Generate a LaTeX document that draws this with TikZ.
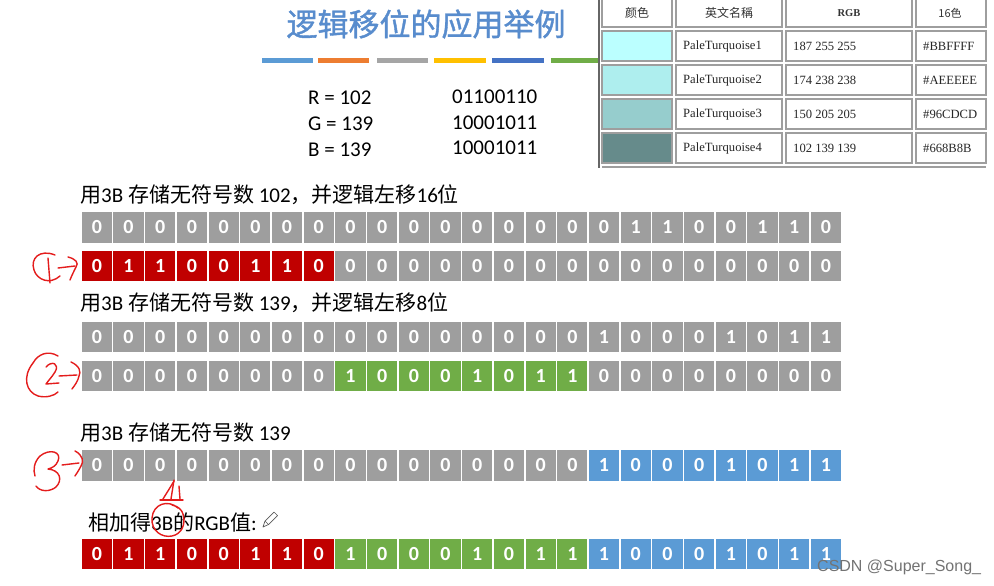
\documentclass[tikz,border=0pt]{standalone}
\usepackage{fontspec}
\setmainfont{Carlito}
\newfontfamily\cjk{Noto Sans CJK SC}
\newfontfamily\cjktitle[FakeBold=1.2]{Noto Sans CJK SC}
\newfontfamily\tabfont{Liberation Serif}
\newfontfamily\wmfont{Liberation Sans}
\definecolor{cellgray}{RGB}{158,158,158}
\definecolor{cellred}{RGB}{192,0,0}
\definecolor{cellgreen}{RGB}{112,173,71}
\definecolor{cellblue}{RGB}{91,155,213}
\definecolor{titleblue}{RGB}{88,140,205}
\definecolor{dashblue}{RGB}{91,155,213}
\definecolor{dashorange}{RGB}{237,125,49}
\definecolor{dashgray}{RGB}{165,165,165}
\definecolor{dashyellow}{RGB}{255,192,0}
\definecolor{dashdblue}{RGB}{68,114,196}
\definecolor{dashgreen}{RGB}{112,173,71}
\definecolor{pt1}{HTML}{BBFFFF}
\definecolor{pt2}{HTML}{AEEEEE}
\definecolor{pt3}{HTML}{96CDCD}
\definecolor{pt4}{HTML}{668B8B}
\definecolor{inkred}{RGB}{228,28,28}
\tikzset{
  bitcell/.style={rectangle,minimum width=31.7pt,minimum height=32pt,inner sep=0pt,
    draw=white,line width=1.5pt,text=white,font=\fontsize{20}{20}\selectfont\bfseries},
  lbl/.style={anchor=west,inner sep=0pt,font=\fontsize{21}{21}\selectfont,text=black},
  rgbtxt/.style={anchor=west,inner sep=0pt,font=\fontsize{21}{21}\selectfont,text=black},
  dashbar/.style={line width=5pt},
  tcell/.style={draw=black!38,line width=1.1pt,fill=white},
  ttext/.style={anchor=west,inner sep=0pt,font=\tabfont\fontsize{12.6}{12.6}\selectfont,text=black!85},
  thead/.style={inner sep=0pt,font=\cjk\fontsize{12}{12}\selectfont,text=black!80},
  ink/.style={draw=inkred,line width=1.4pt,line cap=round,line join=round},
}
\newcommand\bytecells[5]{%
  \foreach \bb [count=\kk from 0] in {#5} {%
    \pgfmathtruncatemacro\idx{#2*8+\kk}%
    \node[bitcell,fill=#4] (#1c\idx) at ({96.85+31.7*\idx},#3) {\bb};%
  }%
}
\begin{document}
\begin{tikzpicture}[x=1pt,y=-1pt]
\useasboundingbox (0,0) rectangle (994,586);
\fill[white] (0,0) rectangle (994,586);

% title
\node[inner sep=0pt,font=\cjktitle\fontsize{31}{31}\selectfont,text=titleblue] (title) at (426,24) {逻辑移位的应用举例};
\draw[dashbar,dashblue]   (262,60.5) -- (313,60.5);
\draw[dashbar,dashorange] (318,60.5) -- (369,60.5);
\draw[dashbar,dashgray]   (377,60.5) -- (428,60.5);
\draw[dashbar,dashyellow] (434,60.5) -- (486,60.5);
\draw[dashbar,dashdblue]  (492,60.5) -- (544,60.5);
\draw[dashbar,dashgreen]  (551,60.5) -- (599,60.5);

% RGB values
\node[rgbtxt] (rv) at (308,98) {R = 102};
\node[rgbtxt] (gv) at (308,124) {G = 139};
\node[rgbtxt] (bv) at (308,150) {B = 139};
\node[rgbtxt] (rb) at (452,97) {01100110};
\node[rgbtxt] (gb) at (452,123) {10001011};
\node[rgbtxt] (bb) at (452,148) {10001011};

% table
\fill[white] (599,0) rectangle (994,168);
\foreach \ya/\yb in {-5/27,31/61,65/95,99/129,133/163} {
  \draw[tcell] (602,\ya) rectangle (672,\yb);
  \draw[tcell] (676,\ya) rectangle (782,\yb);
  \draw[tcell] (786,\ya) rectangle (912,\yb);
  \draw[tcell] (916,\ya) rectangle (986,\yb);
}
\fill[pt1] (603,32) rectangle (671,60);
\fill[pt2] (603,66) rectangle (671,94);
\fill[pt3] (603,100) rectangle (671,128);
\fill[pt4] (603,134) rectangle (671,162);
\draw[black!38,line width=1.1pt] (602,167) -- (986,167);
\draw[black!60,line width=2.5pt] (599,0) -- (599,168);
\node[thead] (h1) at (637,13) {颜色};
\node[thead] (h2) at (729,13) {英文名稱};
\node[inner sep=0pt,font=\tabfont\bfseries\fontsize{10.5}{10.5}\selectfont,text=black!80] (h3) at (849,13) {RGB};
\node[inner sep=0pt,font=\cjk\fontsize{11}{11}\selectfont,text=black!80] (h4) at (950,13) {16色};
\node[ttext] (n1) at (683,46) {PaleTurquoise1};
\node[ttext] (n2) at (683,80) {PaleTurquoise2};
\node[ttext] (n3) at (683,114) {PaleTurquoise3};
\node[ttext] (n4) at (683,148) {PaleTurquoise4};
\node[ttext] (v1) at (793,46) {187 255 255};
\node[ttext] (v2) at (793,80) {174 238 238};
\node[ttext] (v3) at (793,114) {150 205 205};
\node[ttext] (v4) at (793,148) {102 139 139};
\node[ttext] (x1) at (923,46) {\#BBFFFF};
\node[ttext] (x2) at (923,80) {\#AEEEEE};
\node[ttext] (x3) at (923,114) {\#96CDCD};
\node[ttext] (x4) at (923,148) {\#668B8B};

% labels
\node[lbl] (t1) at (80,195) {{\cjk 用}3B {\cjk 存储无符号数} 102{\cjk ，并逻辑左移}16{\cjk 位}};
\node[lbl] (t2) at (80,303) {{\cjk 用}3B {\cjk 存储无符号数} 139{\cjk ，并逻辑左移}8{\cjk 位}};
\node[lbl] (t3) at (80,433) {{\cjk 用}3B {\cjk 存储无符号数} 139};
\node[lbl] (t4) at (88,522) {{\cjk 相加得}3B{\cjk 的}RGB{\cjk 值}:};
% pencil icon
\draw[black!65,line width=0.7pt,line join=round] (263,527) -- (265,521) -- (274,512) -- (277.5,515.5) -- (268.5,524.5) -- cycle;
\draw[black!65,line width=0.7pt] (265,521) -- (268.5,524.5);

% bit rows
\bytecells{ra}{0}{227.5}{cellgray}{0,0,0,0,0,0,0,0}
\bytecells{ra}{1}{227.5}{cellgray}{0,0,0,0,0,0,0,0}
\bytecells{ra}{2}{227.5}{cellgray}{0,1,1,0,0,1,1,0}
\bytecells{rb}{0}{266}{cellred}{0,1,1,0,0,1,1,0}
\bytecells{rb}{1}{266}{cellgray}{0,0,0,0,0,0,0,0}
\bytecells{rb}{2}{266}{cellgray}{0,0,0,0,0,0,0,0}
\bytecells{rc}{0}{337}{cellgray}{0,0,0,0,0,0,0,0}
\bytecells{rc}{1}{337}{cellgray}{0,0,0,0,0,0,0,0}
\bytecells{rc}{2}{337}{cellgray}{1,0,0,0,1,0,1,1}
\bytecells{rd}{0}{376}{cellgray}{0,0,0,0,0,0,0,0}
\bytecells{rd}{1}{376}{cellgreen}{1,0,0,0,1,0,1,1}
\bytecells{rd}{2}{376}{cellgray}{0,0,0,0,0,0,0,0}
\bytecells{re}{0}{465.5}{cellgray}{0,0,0,0,0,0,0,0}
\bytecells{re}{1}{465.5}{cellgray}{0,0,0,0,0,0,0,0}
\bytecells{re}{2}{465.5}{cellblue}{1,0,0,0,1,0,1,1}
\bytecells{rf}{0}{554}{cellred}{0,1,1,0,0,1,1,0}
\bytecells{rf}{1}{554}{cellgreen}{1,0,0,0,1,0,1,1}
\bytecells{rf}{2}{554}{cellblue}{1,0,0,0,1,0,1,1}

% handwritten annotation 1
\draw[ink] (55,255) .. controls (40,249) and (30,258) .. (34,270) .. controls (37,280) and (50,285) .. (60,276);
\draw[ink] (48,258) -- (50,283);
\draw[ink] (58,268) -- (75,266);
\draw[ink] (68,257) .. controls (76,259) and (79,263) .. (76,267) .. controls (74,271) and (72,275) .. (70,280);
% annotation 2
\draw[ink] (58,356) .. controls (48,350) and (38,354) .. (33,363) .. controls (22,377) and (26,392) .. (38,396) .. controls (46,398) and (54,396) .. (58,392);
\draw[ink] (46,367) .. controls (52,360) and (60,364) .. (55,372) .. controls (52,377) and (48,381) .. (46,384) -- (59,383);
\draw[ink] (59,376) -- (77,375);
\draw[ink] (71,362) .. controls (80,366) and (81,372) .. (79,376) .. controls (78,381) and (75,385) .. (72,389);
% annotation 3
\draw[ink] (40,456) .. controls (50,448) and (62,452) .. (58,461) .. controls (56,466) and (52,468) .. (48,469) .. controls (60,470) and (63,480) .. (56,487) .. controls (50,492) and (40,492) .. (36,486);
\draw[ink] (40,456) .. controls (34,462) and (33,470) .. (35,476);
\draw[ink] (62,465) -- (79,463);
\draw[ink] (75,451) .. controls (83,455) and (84,462) .. (81,466) .. controls (79,470) and (77,473) .. (75,476);
% annotation: circle around 3B and arrow up
\draw[ink] (178,508) .. controls (168,499) and (153,504) .. (152,518) .. controls (151,531) and (162,538) .. (172,536) .. controls (182,534) and (186,524) .. (183,514) .. controls (182,510) and (178,506) .. (172,505);
\draw[ink] (174,480) -- (171,499);
\draw[ink] (174,481) .. controls (170,488) and (166,494) .. (163,499);
\draw[ink] (179,486) -- (180,499);
\draw[ink] (160,500) -- (183,500);

% watermark
\node[inner sep=0pt,anchor=west,font=\wmfont\fontsize{16}{16}\selectfont,text=black!55] (wm) at (817,567) {CSDN @Super\_Song\_};
\end{tikzpicture}
\end{document}
